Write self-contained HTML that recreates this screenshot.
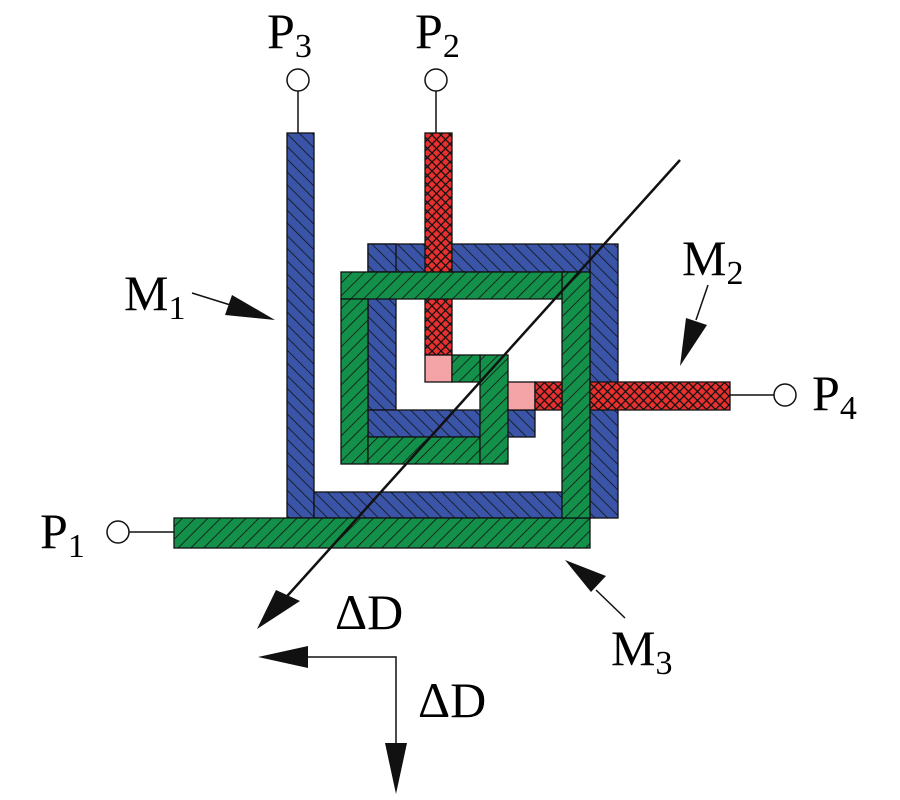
<!DOCTYPE html>
<html><head><meta charset="utf-8"><style>
html,body{margin:0;padding:0;background:#fff;}
svg{display:block;}
</style></head><body>
<svg width="900" height="800" viewBox="0 0 900 800" xmlns="http://www.w3.org/2000/svg">
<defs>
<pattern id="bl" patternUnits="userSpaceOnUse" width="9" height="9" patternTransform="rotate(-45)">
<rect width="9" height="9" fill="#3a55a8"/><line x1="0" y1="0" x2="0" y2="9" stroke="#111" stroke-width="1.6"/></pattern>
<pattern id="gr" patternUnits="userSpaceOnUse" width="9" height="9" patternTransform="rotate(45)">
<rect width="9" height="9" fill="#13904a"/><line x1="0" y1="0" x2="0" y2="9" stroke="#111" stroke-width="1.6"/></pattern>
<pattern id="rd" patternUnits="userSpaceOnUse" width="9" height="9">
<rect width="9" height="9" fill="#e8302f"/><path d="M0,0 L9,9 M9,0 L0,9" stroke="#111" stroke-width="1.3"/></pattern>
</defs>
<g stroke="#111" stroke-width="1.3">
<rect x="287" y="133" width="27" height="385" fill="url(#bl)"/>
<rect x="314" y="492" width="276" height="26" fill="url(#bl)"/>
<rect x="590" y="244" width="28" height="274" fill="url(#bl)"/>
<rect x="368" y="244" width="222" height="28" fill="url(#bl)"/>
<rect x="368" y="244" width="28" height="28" fill="url(#bl)"/>
<rect x="368" y="272" width="28" height="138" fill="url(#bl)"/>
<rect x="368" y="410" width="167" height="27" fill="url(#bl)"/>
<rect x="425" y="133" width="27" height="222" fill="url(#rd)"/>
<rect x="425" y="355" width="27" height="27" fill="#f4a3a6"/>
<rect x="174" y="518" width="416" height="30" fill="url(#gr)"/>
<rect x="562" y="272" width="28" height="246" fill="url(#gr)"/>
<rect x="341" y="272" width="221" height="27" fill="url(#gr)"/>
<rect x="341" y="299" width="27" height="165" fill="url(#gr)"/>
<rect x="368" y="437" width="112" height="27" fill="url(#gr)"/>
<rect x="480" y="355" width="28" height="109" fill="url(#gr)"/>
<rect x="452" y="355" width="28" height="27" fill="url(#gr)"/>
<rect x="508" y="382" width="27" height="28" fill="#f4a3a6"/>
<rect x="535" y="382" width="27" height="28" fill="url(#rd)"/>
<rect x="590" y="382" width="140" height="28" fill="url(#rd)"/>
</g>
<g stroke="#111" stroke-width="1.5" fill="none">
<line x1="298" y1="91" x2="298" y2="133"/>
<line x1="436" y1="91" x2="436" y2="133"/>
<line x1="730" y1="395" x2="774" y2="395"/>
<line x1="129" y1="532" x2="174" y2="532"/>
<circle cx="298" cy="80" r="11" fill="#fff"/>
<circle cx="436" cy="80" r="11" fill="#fff"/>
<circle cx="785" cy="395" r="11" fill="#fff"/>
<circle cx="118" cy="532" r="11" fill="#fff"/>
</g>
<g stroke="#111" fill="none">
<line x1="680" y1="160" x2="280" y2="604" stroke-width="2.5"/>
<line x1="192" y1="293" x2="240" y2="308" stroke-width="1.5"/>
<line x1="708" y1="285" x2="696" y2="320" stroke-width="1.5"/>
<line x1="625" y1="618" x2="596" y2="590" stroke-width="1.5"/>
<polyline points="308,657 396,657 396,745" stroke-width="1.5"/>
</g>
<g fill="#111">
<polygon points="257,629 276,590 300,601"/>
<polygon points="275,320 225,315 232,295"/>
<polygon points="680,366 686,318 707,325"/>
<polygon points="565,560 606,576 591,592"/>
<polygon points="258,657 308,646 308,668"/>
<polygon points="396,794 385,743 407,743"/>
</g>
<g font-size="50" fill="#000" style="font-family:'Liberation Serif','Noto Serif CJK SC','DejaVu Serif',serif">
<text x="267" y="48">P<tspan font-size="34" dy="9">3</tspan></text>
<text x="415" y="48">P<tspan font-size="34" dy="9">2</tspan></text>
<text x="124" y="310">M<tspan font-size="34" dy="9">1</tspan></text>
<text x="682" y="275">M<tspan font-size="34" dy="9">2</tspan></text>
<text x="812" y="410">P<tspan font-size="34" dy="9">4</tspan></text>
<text x="40" y="548">P<tspan font-size="34" dy="9">1</tspan></text>
<text x="611" y="665">M<tspan font-size="34" dy="9">3</tspan></text>
<text x="335" y="629">ΔD</text>
<text x="418" y="717">ΔD</text>
</g>
</svg>
</body></html>
